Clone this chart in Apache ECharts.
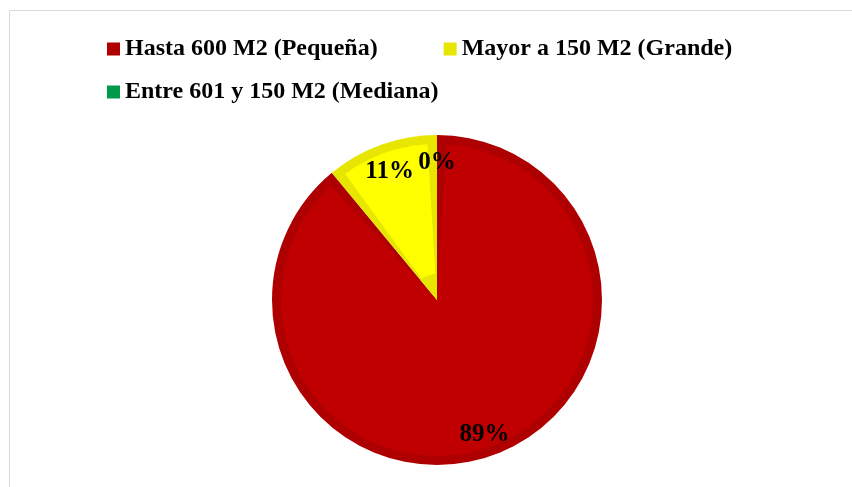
<!DOCTYPE html>
<html>
<head>
<meta charset="utf-8">
<script src="https://cdn.jsdelivr.net/npm/echarts@6/dist/echarts.min.js"></script>
<style>
  html, body { margin: 0; padding: 0; background: #fff; }
  #chart { width: 852px; height: 487px; }
</style>
</head>
<body>
<div id="chart"></div>
<script>
// datos del gráfico
const categories = ['Hasta 600 M2 (Pequeña)', 'Mayor a 150 M2 (Grande)', 'Entre 601 y 150 M2 (Mediana)'];
const values = [89, 11, 0];

// colores: relleno y borde interior (más oscuro)
const fillColors = ['#C00000', '#FFFF00', '#00A651'];
const edgeColors = ['#AE0000', '#E6E600', '#009A4A'];

const font = 'Liberation Serif, Times New Roman, serif';

const chart = echarts.init(document.getElementById('chart'));

const legendBase = {
  left: 107,
  itemWidth: 13,
  itemHeight: 13,
  itemGap: 66,
  padding: 0,
  icon: 'rect',
  selectedMode: false,
  textStyle: { fontFamily: font, fontWeight: 'bold', fontSize: 24, color: '#000' }
};

const pieBase = {
  type: 'pie',
  center: [437, 300],
  startAngle: 90,
  clockwise: true,
  silent: true,
  animation: false,
  label: { show: false },
  labelLine: { show: false }
};

// los valores nulos no ocupan hueco en la capa de relleno
const fillValues = values.map(v => (v === 0 ? '-' : v));

const option = {
  animation: false,
  graphic: [{
    type: 'rect',
    shape: { x: 9.5, y: 10.5, width: 900, height: 600 },
    style: { fill: 'none', stroke: '#d9d9d9', lineWidth: 1 },
    silent: true
  }],
  legend: [
    Object.assign({}, legendBase, {
      top: 37,
      data: categories.slice(0, 2).map((n, i) => ({ name: n, itemStyle: { color: edgeColors[i] } }))
    }),
    Object.assign({}, legendBase, {
      top: 80,
      data: [{ name: categories[2], itemStyle: { color: edgeColors[2] } }]
    })
  ],
  series: [
    // capa base: color del borde
    Object.assign({}, pieBase, {
      radius: [0, 165],
      data: categories.map((n, i) => ({ name: n, value: values[i], itemStyle: { color: edgeColors[i] } }))
    }),
    // relleno interior
    Object.assign({}, pieBase, {
      radius: [0, 156],
      padAngle: 7,
      data: categories.map((n, i) => ({ name: n, value: fillValues[i], itemStyle: { color: fillColors[i] } }))
    }),
    // vértice oscuro de la porción amarilla
    Object.assign({}, pieBase, {
      radius: [0, 26],
      data: categories.map((n, i) => ({
        name: n, value: values[i],
        itemStyle: { color: i === 1 ? edgeColors[1] : 'rgba(0,0,0,0)' }
      }))
    }),
    // etiquetas de porcentaje
    Object.assign({}, pieBase, {
      radius: [0, 274],
      itemStyle: { color: 'rgba(0,0,0,0)' },
      label: {
        show: true,
        position: 'inside',
        offset: [0, 3],
        fontFamily: font,
        fontWeight: 'bold',
        fontSize: 25,
        color: '#000',
        formatter: p => Math.round(p.percent) + '%'
      },
      data: categories.map((n, i) => ({ name: n, value: values[i] }))
    })
  ]
};

chart.setOption(option);
</script>
</body>
</html>
